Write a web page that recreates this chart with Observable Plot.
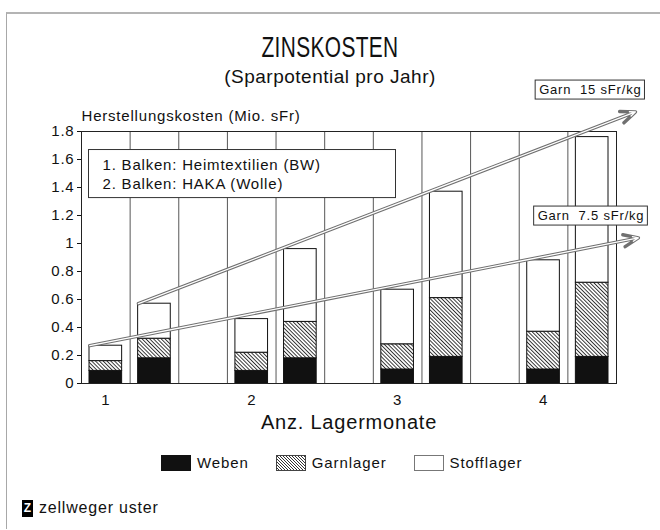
<!DOCTYPE html>
<html>
<head>
<meta charset="utf-8">
<script src="https://cdn.jsdelivr.net/npm/d3@7"></script>
<script src="https://cdn.jsdelivr.net/npm/@observablehq/plot@0.6"></script>
<style>
  body { margin: 0; background: #fff; }
  #page { position: relative; width: 660px; height: 530px; overflow: hidden;
          font-family: "Liberation Sans", Arial, Helvetica, sans-serif; color: #111; background: #fff; }
  #border { position: absolute; left: 6px; top: 12px; width: 670px; height: 515px;
            border-top: 2px solid #b4b4b4; border-left: 1.5px solid #a8a8a8; }
  .t { position: absolute; left: 0; width: 660px; text-align: center; line-height: 1; white-space: nowrap; }
  #title { top: 33px; font-size: 29px; letter-spacing: 0.5px; transform: scaleX(0.72); transform-origin: 330px 0; }
  #subtitle { top: 67px; font-size: 19px; letter-spacing: 0.5px; }
  #chart { position: absolute; left: 0; top: 60px; }
  #legend { position: absolute; top: 455px; left: 161px; display: flex; align-items: center;
            font-size: 15px; letter-spacing: 0.9px; line-height: 16px; }
  .sw { display: inline-block; width: 30px; height: 16px; box-sizing: border-box; margin-right: 6px; }
  .item { display: flex; align-items: center; margin-right: 27px; }
  #footer { position: absolute; left: 22px; top: 499px; display: flex; align-items: center;
            font-size: 16px; letter-spacing: 0.8px; }
  #logo { display: inline-block; width: 11px; height: 17px; background: #000; color: #fff;
          font-weight: bold; font-size: 12px; line-height: 17px; text-align: center; margin-right: 6px; letter-spacing: 0; }
</style>
</head>
<body>
<div id="page">
  <div id="border"></div>
  <div class="t" id="title">ZINSKOSTEN</div>
  <div class="t" id="subtitle">(Sparpotential pro Jahr)</div>
  <div id="chart"></div>
  <div id="legend"></div>
  <div id="footer"><span id="logo">Z</span><span>zellweger uster</span></div>
</div>
<script>
// ---- data ----
const months = [1, 2, 3, 4];
const monthLabels = ["1", "2", "3", "4"];
const products = ["Heimtextilien (BW)", "HAKA (Wolle)"];
const productNotes = ["1. Balken: Heimtextilien (BW)", "2. Balken: HAKA (Wolle)"];
const layers = ["Weben", "Garnlager", "Stofflager"];

// Heimtextilien (BW) – component values per month
const webenBW   = [0.09, 0.09, 0.10, 0.10];
const garnBW    = [0.07, 0.13, 0.18, 0.27];
const stoffBW   = [0.11, 0.24, 0.39, 0.51];
// HAKA (Wolle)
const webenHAKA = [0.18, 0.18, 0.19, 0.19];
const garnHAKA  = [0.14, 0.26, 0.42, 0.53];
const stoffHAKA = [0.25, 0.52, 0.76, 1.04];

const yTicks = [0, 0.2, 0.4, 0.6, 0.8, 1, 1.2, 1.4, 1.6, 1.8];
const yTickLabels = ["0", "0.2", "0.4", "0.6", "0.8", "1", "1.2", "1.4", "1.6", "1.8"];

// trend arrows (x in bar-slot units, y in Mio. sFr)
const arrowLabels = ["Garn\u00a0\u00a07.5 sFr/kg", "Garn\u00a0\u00a015 sFr/kg"];
const arrowX1 = [0.17, 1.17];
const arrowY1 = [0.27, 0.57];
const arrowX2 = [11.45, 11.39];
const arrowY2 = [1.04, 1.94];

// ---- derived tables ----
const slotsPerMonth = products.length + 1;
const nSlots = months.length * slotsPerMonth - 1;
const series = [[webenBW, garnBW, stoffBW], [webenHAKA, garnHAKA, stoffHAKA]];
const rows = months.flatMap((m, i) => products.flatMap((p, j) => layers.map((l, k) => ({
  slot: (m - 1) * slotsPerMonth + j, product: p, layer: l, value: series[j][k][i]
}))));
const arrows = arrowLabels.map((label, i) => ({label, x1: arrowX1[i], y1: arrowY1[i], x2: arrowX2[i], y2: arrowY2[i]}));
const monthTicks = months.map((m, i) => ({x: (m - 1) * slotsPerMonth + 0.5, label: monthLabels[i]}));

const chart = Plot.plot({
  width: 660,
  height: 380,
  marginLeft: 81,
  marginRight: 44,
  marginTop: 71,
  marginBottom: 57,
  style: {fontFamily: '"Liberation Sans", Arial, Helvetica, sans-serif', fontSize: "15px", color: "#111",
          background: "transparent", overflow: "visible", letterSpacing: "0.8px"},
  x: {domain: [0, nSlots], axis: null},
  y: {domain: [0, 1.8], ticks: yTicks, tickFormat: d => yTickLabels[yTicks.indexOf(d)],
      tickSize: 4, tickPadding: 3, label: null},
  color: {domain: layers, range: ["#111", "url(#hatch)", "#fff"]},
  marks: [
    Plot.ruleX(d3.range(1, nSlots), {stroke: "#444", strokeWidth: 0.9}),
    Plot.rectY(rows, {x: "slot", interval: 1, y: "value", fill: "layer", stroke: "#111", strokeWidth: 1,
                      insetLeft: 8, insetRight: 8}),
    Plot.frame({stroke: "#222", strokeWidth: 1}),
    Plot.text(monthTicks, {x: "x", text: "label", frameAnchor: "bottom", dy: 21, fontSize: 15}),
    Plot.text(["Anz. Lagermonate"], {frameAnchor: "bottom", dy: 45, fontSize: 20}),
    Plot.text(["Herstellungskosten (Mio. sFr)"], {frameAnchor: "top-left", dy: -11, lineAnchor: "bottom",
                                                   textAnchor: "start", fontSize: 15}),
    Plot.text([productNotes.join("\n")], {frameAnchor: "top-left", dx: 21, dy: 24.5, lineAnchor: "top",
                                          textAnchor: "start", fontSize: 15, lineHeight: 1.27}),
    Plot.arrow(arrows, {x1: "x1", y1: "y1", x2: "x2", y2: "y2", stroke: "#707070", strokeWidth: 3.4,
                        headLength: 7, headAngle: 45}),
    Plot.arrow(arrows, {x1: "x1", y1: "y1", x2: "x2", y2: "y2", stroke: "#fff", strokeWidth: 1.3,
                        headLength: 7, headAngle: 45}),
    Plot.text(arrows, {x: "x2", y: "y2", text: "label", dx: 6, dy: -22, textAnchor: "end", fontSize: 13})
  ]
});
document.getElementById("chart").appendChild(chart);

// hatch pattern for "Garnlager"
const svg = d3.select(chart);
const defs = svg.insert("defs", ":first-child");
const hs = 2.7;
const pat = defs.append("pattern").attr("id", "hatch").attr("patternUnits", "userSpaceOnUse")
  .attr("width", hs).attr("height", hs).attr("patternTransform", "rotate(-45)");
pat.append("rect").attr("width", hs).attr("height", hs).attr("fill", "#fff");
pat.append("line").attr("x1", 0.5).attr("y1", 0).attr("x2", 0.5).attr("y2", hs)
  .attr("stroke", "#222").attr("stroke-width", 0.9);

// white boxes behind annotation texts (same local transform as the text)
function boxBehind(matchTexts, padL, padR, padT, padB, fixedW) {
  svg.selectAll("text").each(function() {
    if (!matchTexts.includes(this.textContent)) return;
    const bb = this.getBBox();
    const w = fixedW ? fixedW : bb.width + padL + padR;
    const r = d3.create("svg:rect")
      .attr("x", bb.x - padL).attr("y", bb.y - padT)
      .attr("width", w).attr("height", bb.height + padT + padB)
      .attr("fill", "#fff").attr("stroke", "#333").attr("stroke-width", 1);
    const tf = this.getAttribute("transform");
    if (tf) r.attr("transform", tf);
    this.parentNode.insertBefore(r.node(), this);
  });
}
boxBehind([productNotes.join("")], 14, 0, 6, 6, 307);
boxBehind(arrowLabels, 4, 3, 2, 2);

// legend
const swatchStyles = ["background:#111;", "border:1px solid #444;background:repeating-linear-gradient(45deg,#fff 0 1.2px,#333 1.2px 2.1px);", "border:1px solid #777;background:#fff;"];
document.getElementById("legend").innerHTML = layers.map((l, i) =>
  `<span class="item"><span class="sw" style="${swatchStyles[i]}"></span><span>${l}</span></span>`).join("");
</script>
</body>
</html>
